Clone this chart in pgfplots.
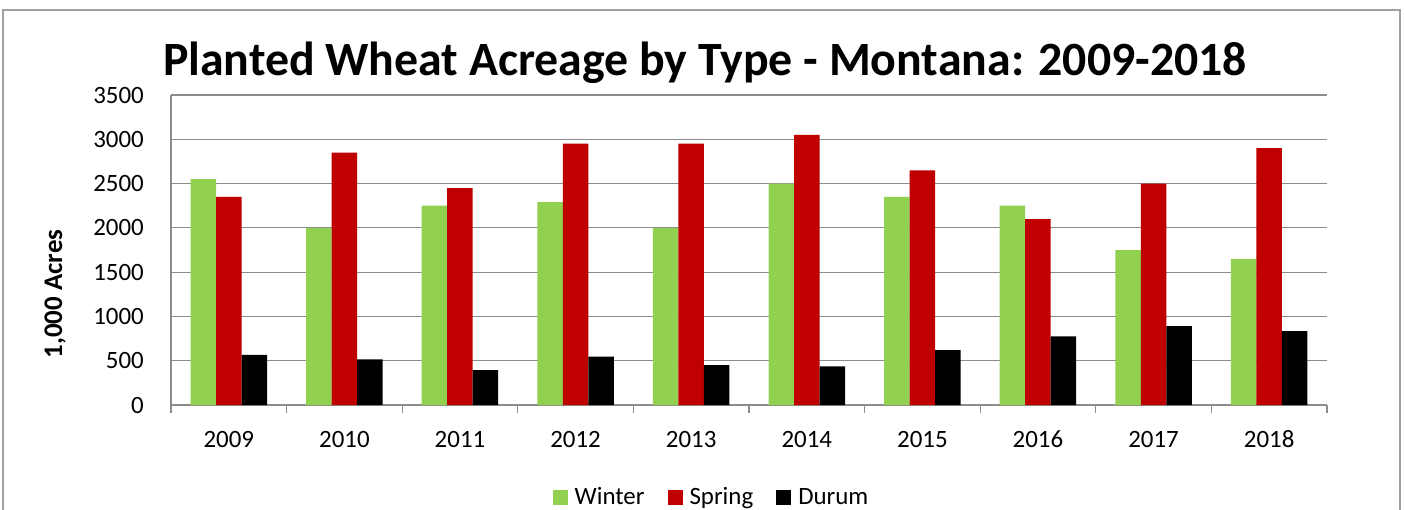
\documentclass[border=0pt]{standalone}
\usepackage{fontspec}
\setmainfont{Carlito}
\usepackage{pgfplots}
\pgfplotsset{compat=1.18}
\definecolor{wgreen}{HTML}{92D050}
\definecolor{sred}{HTML}{C00000}
\definecolor{framegray}{HTML}{A0A0A0}
\definecolor{gridgray}{HTML}{8C8C8C}
\begin{document}
\begin{tikzpicture}[x=1bp,y=1bp]
\useasboundingbox (0,0) rectangle (1404,-510);
\draw[framegray, line width=1.8bp] (3,-510) -- (3,-10) -- (1400,-10) -- (1400,-510);
\node[anchor=base, font=\fontsize{48}{54}\selectfont\bfseries] at (705,-76) {Planted Wheat Acreage by Type - Montana: 2009-2018};
\begin{axis}[
  at={(171bp,-405bp)}, anchor=south west,
  scale only axis, width=1156bp, height=310bp,
  ybar=0pt, bar width=25.5bp,
  xmin=-0.5, xmax=9.5, ymin=0, ymax=3500,
  xtick={0,...,9},
  xticklabels={2009,2010,2011,2012,2013,2014,2015,2016,2017,2018},
  minor xtick={-0.5,0.5,...,9.5},
  ytick={0,500,...,3500},
  axis x line*=bottom, axis y line*=left,
  axis line style={gridgray, line width=1.2bp, -},
  ymajorgrids, grid style={gridgray, line width=1.2bp},
  major tick length=0pt, minor tick length=8bp, tick align=outside,
  minor x tick style={gridgray, line width=1.2bp},
  major x tick style={draw=none}, ytick style={draw=none},
  /pgf/number format/assume math mode=true,
  /pgf/number format/set thousands separator={},
  ticklabel style={font=\fontsize{25}{30}\selectfont, inner sep=0pt},
  yticklabel style={anchor=east, xshift=-27bp},
  xticklabel style={anchor=center, yshift=-34bp},
  ylabel={1,000 Acres},
  ylabel style={at={(axis description cs:-0.1003,0.358)}, anchor=center, rotate=0, font=\fontsize{27}{32}\selectfont\bfseries},
  legend columns=3,
  legend style={at={(0.4667,-0.2968)}, anchor=center, draw=none, fill=none,
    font=\fontsize{25}{30}\selectfont, nodes={inner sep=0pt},
    /tikz/every odd column/.append style={column sep=7bp},
    /tikz/every even column/.append style={column sep=23bp}},
  legend image code/.code={\fill[#1] (0bp,-7.5bp) rectangle (15bp,7.5bp);},
]
\addplot[fill=wgreen, draw=none] coordinates {(0,2550) (1,2000) (2,2250) (3,2290) (4,2000) (5,2500) (6,2350) (7,2250) (8,1750) (9,1650)};
\addplot[fill=sred, draw=none] coordinates {(0,2350) (1,2850) (2,2450) (3,2950) (4,2950) (5,3050) (6,2650) (7,2100) (8,2500) (9,2900)};
\addplot[fill=black, draw=none] coordinates {(0,565) (1,515) (2,395) (3,545) (4,450) (5,435) (6,620) (7,775) (8,890) (9,835)};
\legend{Winter,Spring,Durum}
\end{axis}
\end{tikzpicture}
\end{document}
